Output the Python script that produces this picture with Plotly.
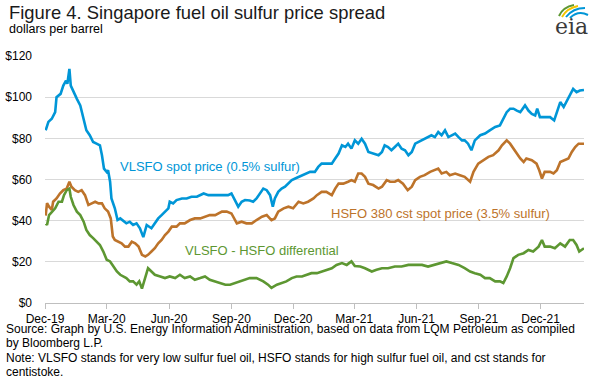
import pandas as pd
import plotly.graph_objects as go

BASE = "2019-12-01"

# VLSFO spot price (0.5% sulfur) -- days since 2019-12-01, $/bbl
vlsfo_days = [1, 5, 10, 15, 17, 23, 27, 31, 33, 36, 38, 42, 47, 52, 57, 61, 66, 71, 76, 81, 84, 87, 91, 93, 96, 98,
              103, 107, 111, 116, 120, 125, 130, 135, 140, 145, 150, 157, 162, 167, 172, 177, 182, 184, 189, 194,
              202, 209, 216, 224, 234, 241, 248, 256, 263, 270, 275, 280, 285, 290, 295, 302, 307, 312, 317, 322,
              327, 332, 336, 339, 344, 349, 354, 359, 364, 369, 374, 379, 384, 391, 398, 403, 408, 415, 423, 428,
              433, 438, 443, 447, 452, 457, 462, 467, 472, 477, 484, 492, 497, 501, 506, 511, 516, 521, 526, 531,
              536, 541, 546, 551, 556, 560, 565, 570, 575, 580, 585, 590, 595, 600, 605, 610, 615, 619, 624, 629,
              634, 642, 649, 656, 664, 671, 676, 681, 686, 691, 696, 701, 708, 713, 718, 723, 726, 730, 737, 745,
              751, 755, 760, 765, 769, 774, 779, 784, 789, 795]
vlsfo_vals = [83.9, 88.0, 89.5, 92.7, 100.0, 101.6, 105.6, 108.0, 106.5, 113.7, 105.6, 102.4, 99.2, 96.0, 89.5, 83.9,
              81.5, 78.2, 77.4, 76.6, 71.8, 65.3, 63.7, 64.5, 58.9, 50.8, 46.0, 40.3, 41.1, 39.5, 38.7, 39.5, 37.9,
              38.7, 36.3, 32.0, 37.9, 36.3, 38.7, 41.1, 42.7, 44.4, 46.0, 49.2, 48.4, 50.0, 50.8, 50.8, 51.6, 51.6,
              53.2, 52.4, 52.4, 52.4, 52.4, 52.4, 53.2, 50.0, 46.8, 49.2, 50.0, 49.8, 49.2, 50.8, 53.2, 55.6, 54.8,
              52.4, 46.8, 50.8, 54.0, 55.6, 56.5, 58.0, 59.7, 60.5, 61.3, 62.1, 62.9, 63.7, 63.7, 66.1, 67.7, 67.7,
              67.7, 70.2, 72.6, 76.6, 75.8, 77.4, 75.0, 79.0, 77.4, 79.8, 77.4, 73.4, 72.6, 71.8, 73.4, 76.6, 75.8,
              74.2, 75.8, 77.4, 75.0, 74.2, 71.8, 73.4, 77.4, 78.2, 79.0, 79.8, 80.6, 81.5, 80.6, 83.1, 81.5, 83.9,
              80.6, 81.5, 82.3, 80.6, 79.0, 79.0, 77.4, 74.2, 79.0, 81.5, 82.3, 83.9, 85.5, 86.3, 89.5, 92.7, 94.4,
              94.4, 93.5, 92.7, 96.0, 93.5, 91.9, 91.1, 94.4, 90.3, 90.3, 90.3, 88.7, 92.7, 97.6, 95.2, 97.6, 100.8,
              104.0, 102.4, 103.2, 103.5]

# HSFO 380 cst spot price (3.5% sulfur)
hsfo_days = [1, 3, 6, 10, 12, 17, 22, 27, 32, 36, 39, 44, 49, 54, 59, 64, 69, 74, 79, 84, 88, 93, 97, 100, 103, 108,
             113, 118, 123, 128, 133, 138, 143, 148, 152, 157, 162, 167, 172, 177, 182, 187, 194, 199, 206, 214,
             221, 229, 236, 243, 251, 261, 268, 275, 283, 290, 297, 305, 312, 320, 327, 334, 339, 344, 352, 359,
             366, 374, 381, 388, 396, 401, 408, 415, 423, 428, 433, 440, 447, 452, 457, 462, 467, 472, 477, 484,
             492, 497, 504, 509, 516, 521, 528, 535, 541, 546, 553, 560, 568, 575, 580, 585, 592, 597, 605, 612,
             619, 627, 632, 639, 647, 654, 661, 669, 674, 681, 686, 691, 696, 701, 706, 710, 718, 725, 729, 733,
             737, 745, 750, 755, 760, 767, 772, 777, 782, 787, 795]
hsfo_vals = [42.5, 48.5, 46.8, 45.2, 49.2, 50.8, 53.2, 54.8, 55.6, 58.9, 56.5, 54.8, 54.0, 54.8, 52.4, 47.6, 48.4,
             49.2, 48.4, 48.4, 46.0, 44.4, 41.1, 32.3, 30.6, 29.8, 29.0, 27.4, 27.4, 29.8, 29.0, 27.4, 23.4, 22.6,
             23.4, 25.0, 26.6, 29.0, 30.6, 33.0, 34.7, 37.1, 37.1, 38.7, 38.7, 40.3, 41.1, 41.1, 41.9, 42.7, 42.7,
             44.4, 44.4, 43.5, 38.7, 39.5, 38.7, 38.7, 40.3, 41.9, 42.7, 40.3, 41.1, 44.4, 46.0, 46.8, 46.0, 49.2,
             48.4, 49.2, 50.8, 52.4, 54.0, 54.0, 52.4, 55.6, 58.0, 58.0, 58.9, 59.7, 58.9, 62.9, 62.9, 61.3, 58.0,
             57.3, 55.6, 56.5, 59.7, 58.9, 58.9, 59.7, 58.0, 54.8, 56.5, 59.7, 61.3, 62.1, 63.7, 64.5, 65.3, 62.9,
             63.7, 62.1, 62.9, 62.1, 61.3, 58.9, 63.7, 67.7, 69.4, 71.0, 71.8, 74.2, 76.6, 79.0, 77.4, 75.0, 72.6,
             70.2, 68.5, 70.2, 69.4, 67.7, 64.5, 60.5, 63.7, 63.7, 62.9, 64.5, 68.5, 69.4, 70.2, 73.4, 75.8, 77.4,
             77.4]

# VLSFO - HSFO differential
diff_days = [1, 3, 6, 10, 15, 20, 25, 28, 32, 36, 38, 42, 47, 52, 57, 61, 66, 71, 76, 81, 86, 91, 96, 101, 106, 111,
             116, 120, 125, 130, 135, 139, 143, 148, 152, 157, 162, 170, 177, 184, 192, 199, 206, 214, 221, 229,
             236, 243, 251, 258, 266, 273, 280, 288, 295, 302, 312, 322, 329, 334, 342, 349, 356, 364, 371, 379,
             386, 393, 401, 408, 415, 423, 430, 438, 445, 452, 457, 465, 472, 482, 489, 497, 506, 516, 526, 536,
             546, 556, 565, 575, 585, 592, 600, 610, 619, 627, 634, 642, 649, 656, 664, 671, 676, 681, 686, 691,
             698, 706, 713, 720, 728, 733, 737, 745, 752, 760, 767, 774, 779, 784, 788, 795]
diff_vals = [38.7, 37.9, 42.7, 44.4, 46.0, 49.2, 49.2, 52.4, 54.8, 55.6, 51.6, 47.6, 44.4, 42.7, 39.5, 35.5, 33.0,
             31.5, 29.8, 28.2, 25.0, 21.0, 20.2, 17.7, 15.3, 13.7, 12.9, 12.1, 10.5, 10.5, 8.9, 10.5, 7.0, 13.0,
             16.9, 15.3, 13.7, 12.9, 12.1, 12.9, 12.1, 13.7, 12.1, 12.9, 11.3, 12.1, 12.9, 11.3, 10.5, 9.7, 8.9,
             8.9, 9.7, 10.5, 11.3, 12.1, 12.1, 10.5, 8.9, 7.3, 8.9, 9.7, 10.5, 12.1, 12.9, 12.9, 13.7, 14.5, 14.5,
             15.3, 16.1, 16.9, 18.5, 19.4, 18.5, 20.2, 18.0, 17.7, 16.9, 15.3, 16.1, 16.9, 16.9, 17.7, 17.7, 18.5,
             18.5, 18.5, 17.7, 18.5, 19.4, 20.2, 19.4, 18.5, 16.9, 15.3, 14.5, 13.7, 12.1, 12.1, 10.5, 10.5, 9.7,
             12.9, 16.9, 21.8, 23.4, 24.2, 25.8, 25.0, 27.4, 30.6, 27.4, 27.4, 26.6, 29.0, 27.4, 30.6, 30.6, 28.2,
             25.0, 26.6]

tick_dates = ["2019-12-01", "2020-03-01", "2020-06-01", "2020-09-01", "2020-12-01",
              "2021-03-01", "2021-06-01", "2021-09-01", "2021-12-01"]
tick_labels = ["Dec-19", "Mar-20", "Jun-20", "Sep-20", "Dec-20", "Mar-21", "Jun-21", "Sep-21", "Dec-21"]

BLUE, BROWN, GREEN = "#0096d7", "#bd732a", "#5d9732"
FONT = "Liberation Sans, Arial, sans-serif"


def to_dates(days):
    return pd.Timestamp(BASE) + pd.to_timedelta(days, unit="D")


W, H = 598, 384
L, R, T, B = 45, 14, 56, 81
PW, PH = W - L - R, H - T - B


def px(x):
    return (x - L) / PW


def py(y):
    return (H - B - y) / PH


fig = go.Figure()
for days, vals, col in [(vlsfo_days, vlsfo_vals, BLUE), (hsfo_days, hsfo_vals, BROWN), (diff_days, diff_vals, GREEN)]:
    fig.add_trace(go.Scatter(x=to_dates(days), y=vals, mode="lines",
                             line=dict(color=col, width=2.6), showlegend=False, hoverinfo="skip"))

ann = []
ann.append(dict(text="Figure 4. Singapore fuel oil sulfur price spread", x=px(7), y=py(12), xanchor="left",
                yanchor="middle", font=dict(size=18.4, color="#1a1a1a")))
ann.append(dict(text="dollars per barrel", x=px(7), y=py(29), xanchor="left", yanchor="middle",
                font=dict(size=12.5, color="#000")))
ann.append(dict(text="VLSFO spot price (0.5% sulfur)", x=px(118), y=py(166), xanchor="left", yanchor="middle",
                font=dict(size=13, color=BLUE)))
ann.append(dict(text="HSFO 380 cst spot price (3.5% sulfur)", x=px(329), y=py(213), xanchor="left",
                yanchor="middle", font=dict(size=13, color=BROWN)))
ann.append(dict(text="VLSFO - HSFO differential", x=px(183), y=py(250), xanchor="left", yanchor="middle",
                font=dict(size=13, color=GREEN)))
notes = ["Source: Graph by U.S. Energy Information Administration, based on data from LQM Petroleum as compiled",
         "by Bloomberg L.P.",
         "Note: VLSFO stands for very low sulfur fuel oil, HSFO stands for high sulfur fuel oil, and cst stands for",
         "centistoke."]
for i, t in enumerate(notes):
    ann.append(dict(text=t, x=px(5), y=py(329 + i * 14.3), xanchor="left", yanchor="middle", borderpad=0,
                    font=dict(size=12, color="#000")))
ann.append(dict(text="eia", x=px(571), y=py(27), xanchor="center", yanchor="middle",
                font=dict(size=22, color="#3a3a3a", family="DejaVu Serif, Liberation Serif, serif")))
for a in ann:
    a.update(xref="paper", yref="paper", showarrow=False)
    a["font"].setdefault("family", FONT)

shapes = []
arcs = [((559, 16), (563, 7), (574, 5), GREEN),
        ((562, 17), (567, 8), (578, 6), "#f2c500"),
        ((566, 17), (573, 8), (585, 8), BLUE),
        ((570, 18), (578, 10), (588, 15), BLUE)]
for (x0, y0), (cx, cy), (x1, y1), col in arcs:
    shapes.append(dict(type="path", xref="paper", yref="paper",
                       path=f"M {px(x0)},{py(y0)} Q {px(cx)},{py(cy)} {px(x1)},{py(y1)}",
                       line=dict(color=col, width=2)))

fig.update_layout(
    width=W, height=H, margin=dict(l=L, r=R, t=T, b=B, autoexpand=False),
    paper_bgcolor="white", plot_bgcolor="white",
    font=dict(family=FONT, size=12, color="#000"),
    annotations=ann, shapes=shapes,
    xaxis=dict(type="date", range=["2019-12-01", "2022-02-03"], tickvals=tick_dates, ticktext=tick_labels,
               showgrid=False, showline=True, linecolor="#bfbfbf", linewidth=1, ticks="outside", ticklen=5,
               tickcolor="#bfbfbf", tickfont=dict(size=12, color="#000"), zeroline=False),
    yaxis=dict(range=[0, 120], dtick=20, tickprefix="$", showgrid=True, gridcolor="#d9d9d9", gridwidth=1,
               zeroline=False, showline=False, ticks="", ticklabelstandoff=12,
               tickfont=dict(size=12, color="#000")),
)

fig.write_html("out.html", config={"displayModeBar": False},
               post_script="document.body.style.margin='0';document.body.style.overflow='hidden';")
